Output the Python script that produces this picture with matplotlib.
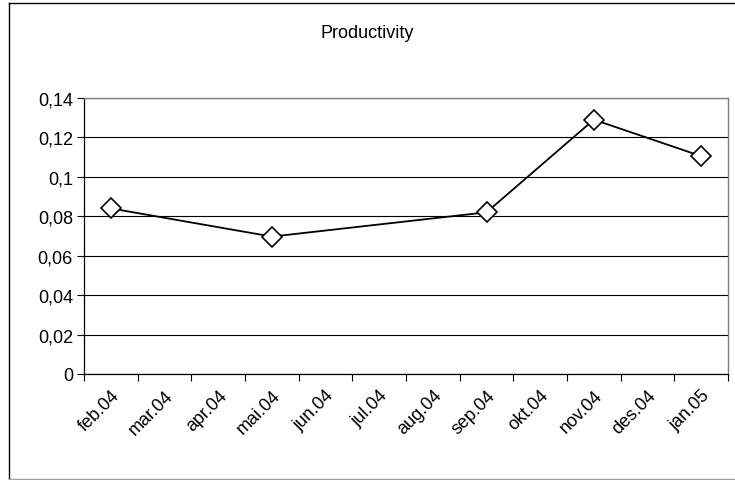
import matplotlib
matplotlib.use('Agg')
import matplotlib.pyplot as plt
from matplotlib.ticker import FuncFormatter, FixedLocator
from matplotlib.lines import Line2D

# ================================================================
# Data
# ================================================================

months = ['feb.04', 'mar.04', 'apr.04', 'mai.04', 'jun.04', 'jul.04',
          'aug.04', 'sep.04', 'okt.04', 'nov.04', 'des.04', 'jan.05']

point_months = ['feb.04', 'mai.04', 'sep.04', 'nov.04', 'jan.05']
productivity = [0.084, 0.0697, 0.082, 0.129, 0.1105]

y_ticks = [0, 0.02, 0.04, 0.06, 0.08, 0.1, 0.12, 0.14]

# ================================================================
# Plot
# ================================================================

plt.rcParams['font.family'] = ['Liberation Sans', 'DejaVu Sans']

fig = plt.figure(figsize=(7.35, 4.81), dpi=100)
ax = fig.add_axes([0.1143, 0.2204, 0.8762, 0.5738])

x = [months.index(m) for m in point_months]
ax.plot(x, productivity, color='black', linewidth=1.3,
        marker='D', markersize=10, markerfacecolor='white',
        markeredgecolor='black', markeredgewidth=1.2, zorder=3)

ax.set_xlim(-0.5, len(months) - 0.5)
ax.set_ylim(0, 0.14)

# category labels at centres, tick marks at boundaries
ax.set_xticks(range(len(months)))
ax.set_xticklabels(months, rotation=45, ha='right', rotation_mode='anchor',
                   fontsize=13)
ax.tick_params(axis='x', which='major', length=0, pad=9)
ax.xaxis.set_minor_locator(FixedLocator([i - 0.5 for i in range(len(months) + 1)]))
ax.tick_params(axis='x', which='minor', length=5, width=0.8, color='black')

ax.set_yticks(y_ticks)
ax.yaxis.set_major_formatter(FuncFormatter(lambda v, p: ('%g' % round(v, 2)).replace('.', ',')))
ax.tick_params(axis='y', length=5, width=0.8, labelsize=13, pad=3)

ax.grid(axis='y', color='black', linewidth=0.8)
ax.set_axisbelow(True)

for side in ['top', 'right']:
    ax.spines[side].set_color('#808080')
    ax.spines[side].set_linewidth(1.0)
for side in ['left', 'bottom']:
    ax.spines[side].set_color('black')
    ax.spines[side].set_linewidth(0.9)

fig.text(0.5, 0.93, 'Productivity', ha='center', va='center', fontsize=13)

# outer chart border
fig.add_artist(Line2D([0.012, 1.0], [0.992, 0.992], color='black', linewidth=1.0,
                      transform=fig.transFigure))
fig.add_artist(Line2D([0.012, 0.012], [0.003, 0.992], color='black', linewidth=1.0,
                      transform=fig.transFigure))
fig.add_artist(Line2D([0.012, 1.0], [0.003, 0.003], color='#a0a0a0', linewidth=1.0,
                      transform=fig.transFigure))

fig.savefig('out.png', dpi=100)
